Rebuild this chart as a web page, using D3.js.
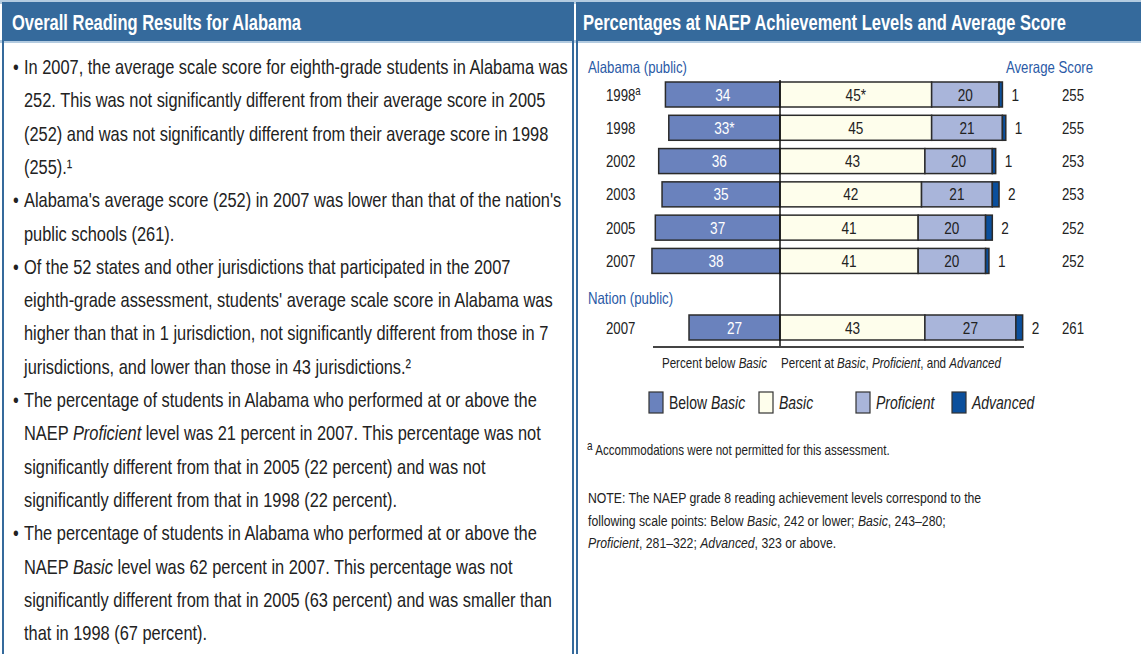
<!DOCTYPE html>
<html lang="en">
<head>
<meta charset="UTF-8">
<title>NAEP Reading - Alabama</title>
<script src="https://d3js.org/d3.v7.min.js"></script>
<style>
  body { margin: 0; background: #fff; }
  svg { display: block; }
  text { font-family: 'Liberation Sans', Arial, Helvetica, sans-serif; }
</style>
</head>
<body>
<div class="canvas"></div>
<script>
// ---- data ----
const rowLabels   = ['1998', '1998', '2002', '2003', '2005', '2007', '2007']
const rowSup      = ['a', '', '', '', '', '', '']
const rowGroup    = ['state', 'state', 'state', 'state', 'state', 'state', 'nation']
const belowBasic  = [34, 33, 36, 35, 37, 38, 27]
const basic       = [45, 45, 43, 42, 41, 41, 43]
const proficient  = [20, 21, 20, 21, 20, 20, 27]
const advanced    = [1, 1, 1, 2, 2, 1, 2]
const belowMark   = ['', '*', '', '', '', '', '']
const basicMark   = ['*', '', '', '', '', '', '']
const avgScore    = [255, 255, 253, 253, 252, 252, 261]
const levelNames  = ['Below Basic', 'Basic', 'Proficient', 'Advanced']
const levelColors = ['#6a82bd', '#fefeec', '#a9b5da', '#0b4f9c']

const leftLines = [
  '• In 2007, the average scale score for eighth-grade students in Alabama was',
  '252. This was not significantly different from their average score in 2005',
  '(252) and was not significantly different from their average score in 1998',
  '(255).¹',
  '• Alabama\'s average score (252) in 2007 was lower than that of the nation\'s',
  'public schools (261).',
  '• Of the 52 states and other jurisdictions that participated in the 2007',
  'eighth-grade assessment, students\' average scale score in Alabama was',
  'higher than that in 1 jurisdiction, not significantly different from those in 7',
  'jurisdictions, and lower than those in 43 jurisdictions.²',
  '• The percentage of students in Alabama who performed at or above the',
  'NAEP _Proficient_ level was 21 percent in 2007. This percentage was not',
  'significantly different from that in 2005 (22 percent) and was not',
  'significantly different from that in 1998 (22 percent).',
  '• The percentage of students in Alabama who performed at or above the',
  'NAEP _Basic_ level was 62 percent in 2007. This percentage was not',
  'significantly different from that in 2005 (63 percent) and was smaller than',
  'that in 1998 (67 percent).'
]
const noteLines = [
  'NOTE: The NAEP grade 8 reading achievement levels correspond to the',
  'following scale points: Below _Basic_, 242 or lower; _Basic_, 243–280;',
  '_Proficient_, 281–322; _Advanced_, 323 or above.'
]

const width = 1141
const height = 654
const blue = '#356a9c'
const ink = '#222'
const SX = 0.8 // narrow the sans face to look like a condensed font

const svg = d3.select('.canvas').append('svg')
  .attr('width', width).attr('height', height)

const at = (x, y, sx) => `translate(${x},${y}) scale(${sx || SX},1)`

// add a narrow text at x,y
function label(parent, x, y, size, color, sx) {
  return parent.append('text').attr('transform', at(x, y, sx))
    .attr('fill', color || ink).style('font-size', size + 'px')
}

// write a line where _word_ is italic
function richText(sel, str) {
  str.split('_').forEach((part, i) => {
    sel.append('tspan').text(part).style('font-style', i % 2 ? 'italic' : 'normal')
  })
  return sel
}

// ---- panels ----
svg.append('rect').attr('x', 0).attr('y', 0).attr('width', width).attr('height', 4).attr('fill', '#b3cbe0')
svg.append('rect').attr('x', 0).attr('y', 40).attr('width', width).attr('height', 3).attr('fill', '#b3cbe0')
svg.append('rect').attr('x', 2).attr('y', 4).attr('width', 572).attr('height', 37).attr('fill', blue)
svg.append('rect').attr('x', 576).attr('y', 4).attr('width', 565).attr('height', 37).attr('fill', blue)
svg.append('rect').attr('x', 3).attr('y', 3).attr('width', 570).attr('height', 700)
  .attr('fill', 'none').attr('stroke', blue).attr('stroke-width', 2)
svg.append('rect').attr('x', 577).attr('y', 3).attr('width', 600).attr('height', 700)
  .attr('fill', 'none').attr('stroke', blue).attr('stroke-width', 2)

label(svg, 12, 30, 22, '#fff', 0.75).style('font-weight', 'bold')
  .text('Overall Reading Results for Alabama')
label(svg, 583, 30, 22, '#fff', 0.75).style('font-weight', 'bold')
  .text('Percentages at NAEP Achievement Levels and Average Score')

// ---- left text ----
const lt = svg.append('g')
leftLines.forEach((line, i) => {
  const bullet = line.startsWith('• ')
  const yy = 74 + 33.3 * i
  if (bullet) label(lt, 13, yy, 20.5).text('•')
  richText(label(lt, 24, yy, 20.5), bullet ? line.slice(2) : line)
})

// ---- chart ----
const k = 3.37
const x = d3.scaleLinear().domain([-40, 60]).range([780 - 40 * k, 780 + 60 * k])
const rowIndex = rowGroup.map((g, i) => g === 'nation' ? i + 1 : i)
const y = d3.scaleLinear().domain([0, 7]).range([94.5, 327.5])
const barH = 25

const chart = svg.append('g')

label(svg, 588, 73, 16.5, '#2a5aa6').text('Alabama (public)')
label(svg, 1093, 73, 16.5, '#2a5aa6').attr('text-anchor', 'end').text('Average Score')
label(svg, 588, 304, 16.5, '#2a5aa6').text('Nation (public)')

const rows = rowLabels.map((lab, i) => {
  const segs = [
    { lvl: 0, x0: -belowBasic[i], x1: 0, v: belowBasic[i] + belowMark[i] },
    { lvl: 1, x0: 0, x1: basic[i], v: basic[i] + basicMark[i] },
    { lvl: 2, x0: basic[i], x1: basic[i] + proficient[i], v: String(proficient[i]) },
    { lvl: 3, x0: basic[i] + proficient[i], x1: basic[i] + proficient[i] + advanced[i], v: String(advanced[i]) }
  ]
  return { lab, sup: rowSup[i], cy: y(rowIndex[i]), segs, score: avgScore[i] }
})

const rowG = chart.selectAll('g.row').data(rows).enter().append('g').attr('class', 'row')

const yearT = rowG.append('text').attr('transform', d => at(606, d.cy + 6))
  .attr('fill', ink).style('font-size', '16.5px').text(d => d.lab)
yearT.filter(d => d.sup).append('tspan').attr('dy', -6).style('font-size', '12px').text(d => d.sup)

rowG.selectAll('rect').data(d => d.segs.map(s => ({ ...s, cy: d.cy }))).enter().append('rect')
  .attr('x', d => x(d.x0))
  .attr('y', d => d.cy - barH / 2)
  .attr('width', d => x(d.x1) - x(d.x0))
  .attr('height', barH)
  .attr('fill', d => levelColors[d.lvl])
  .attr('stroke', '#2b2b2b').attr('stroke-width', 1.5)

rowG.selectAll('text.val').data(d => d.segs.map(s => ({ ...s, cy: d.cy }))).enter().append('text')
  .attr('class', 'val')
  .attr('transform', d => at(d.lvl === 3 ? x(d.x1) + 9 : (x(d.x0) + x(d.x1)) / 2, d.cy + 6))
  .attr('text-anchor', d => d.lvl === 3 ? 'start' : 'middle')
  .attr('fill', d => d.lvl === 0 ? '#fff' : ink)
  .style('font-size', '17px')
  .text(d => d.v)

rowG.append('text').attr('transform', d => at(1062, d.cy + 6))
  .attr('fill', ink).style('font-size', '16.5px').text(d => d.score)

// zero line and baseline
chart.append('line').attr('x1', x(0)).attr('x2', x(0)).attr('y1', 80).attr('y2', 348)
  .attr('stroke', '#111').attr('stroke-width', 1.5)
chart.append('line').attr('x1', 653).attr('x2', 1024).attr('y1', 347).attr('y2', 347)
  .attr('stroke', '#444').attr('stroke-width', 2)

richText(label(svg, x(0) - 13, 368, 14.5).attr('text-anchor', 'end'), 'Percent below _Basic_')
richText(label(svg, x(0) + 1, 368, 14.5), 'Percent at _Basic_, _Proficient_, and _Advanced_')

// ---- legend ----
const legX = [649, 759, 856, 952]
const leg = svg.selectAll('g.leg').data(levelNames).enter().append('g').attr('class', 'leg')
  .attr('transform', (d, i) => `translate(${legX[i]}, 392)`)
leg.append('rect').attr('width', 14).attr('height', 21)
  .attr('fill', (d, i) => levelColors[i]).attr('stroke', '#333').attr('stroke-width', 1.2)
leg.each(function (d) {
  richText(label(d3.select(this), 20, 17, 17.5), d === 'Below Basic' ? 'Below _Basic_' : '_' + d + '_')
})

// ---- notes ----
const fn = label(svg, 587, 455, 14.5)
fn.append('tspan').attr('dy', -5).style('font-size', '12.5px').text('a')
fn.append('tspan').attr('dy', 5).text(' Accommodations were not permitted for this assessment.')

noteLines.forEach((line, i) => {
  richText(label(svg, 588, 503 + 22.5 * i, 15.3), line)
})
</script>
</body>
</html>
